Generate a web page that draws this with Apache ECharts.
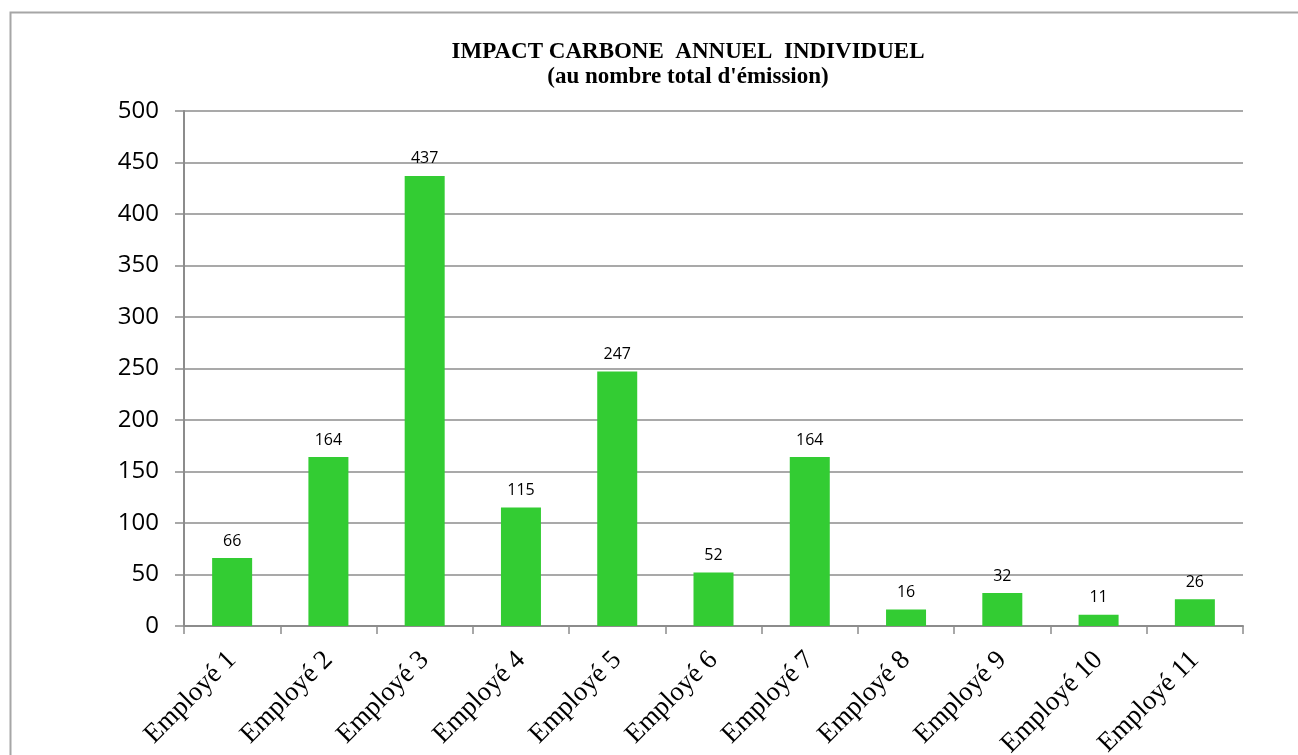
<!DOCTYPE html>
<html>
<head>
<meta charset="utf-8">
<script src="https://cdn.jsdelivr.net/npm/echarts@6/dist/echarts.min.js"></script>
<style>
  html, body { margin: 0; padding: 0; background: #ffffff; }
  #chart { width: 1298px; height: 755px; }
</style>
</head>
<body>
<div id="chart"></div>
<script>
const categories = ["Employé 1", "Employé 2", "Employé 3", "Employé 4", "Employé 5", "Employé 6",
  "Employé 7", "Employé 8", "Employé 9", "Employé 10", "Employé 11"];
const emissions = [66, 164, 437, 115, 247, 52, 164, 16, 32, 11, 26];
const titleLines = ["IMPACT CARBONE  ANNUEL  INDIVIDUEL", "(au nombre total d'émission)"];

const axisGrey = "#8c8c8c";
const chart = echarts.init(document.getElementById("chart"));

chart.setOption({
  animation: false,
  backgroundColor: "#ffffff",
  graphic: [
    {
      type: "rect",
      left: 8,
      top: 10,
      shape: { width: 1400, height: 900 },
      style: { fill: "none", stroke: "#a6a6a6", lineWidth: 2 },
      z: -1
    }
  ],
  title: {
    text: titleLines.join("\n"),
    left: 683,
    textAlign: "center",
    top: 35,
    textStyle: {
      fontFamily: "Liberation Serif",
      fontWeight: "bold",
      fontSize: 23,
      lineHeight: 25,
      color: "#000000"
    }
  },
  grid: {
    left: 184,
    right: 55,
    top: 111,
    bottom: 129,
    containLabel: false,
    outerBoundsMode: "none"
  },
  xAxis: {
    type: "category",
    data: categories,
    axisLine: { lineStyle: { color: axisGrey, width: 2 } },
    axisTick: { show: true, length: 8, lineStyle: { color: axisGrey, width: 1.5 } },
    axisLabel: {
      rotate: 45,
      interval: 0,
      margin: 30,
      fontFamily: "Liberation Serif",
      fontSize: 27,
      color: "#000000"
    }
  },
  yAxis: {
    type: "value",
    min: 0,
    max: 500,
    interval: 50,
    axisLine: { show: true, lineStyle: { color: axisGrey, width: 2 } },
    axisTick: { show: true, inside: false, length: 9, lineStyle: { color: axisGrey, width: 1.5 } },
    axisLabel: {
      margin: 25,
      fontFamily: "Open Sans",
      fontSize: 24,
      color: "#000000"
    },
    splitLine: { lineStyle: { color: axisGrey, width: 1.5 } }
  },
  series: [
    {
      type: "bar",
      data: emissions,
      barWidth: 40,
      itemStyle: { color: "#33cc33" },
      label: {
        show: true,
        position: "top",
        distance: 9,
        fontFamily: "Open Sans",
        fontSize: 16,
        color: "#000000"
      }
    }
  ]
});
</script>
</body>
</html>
